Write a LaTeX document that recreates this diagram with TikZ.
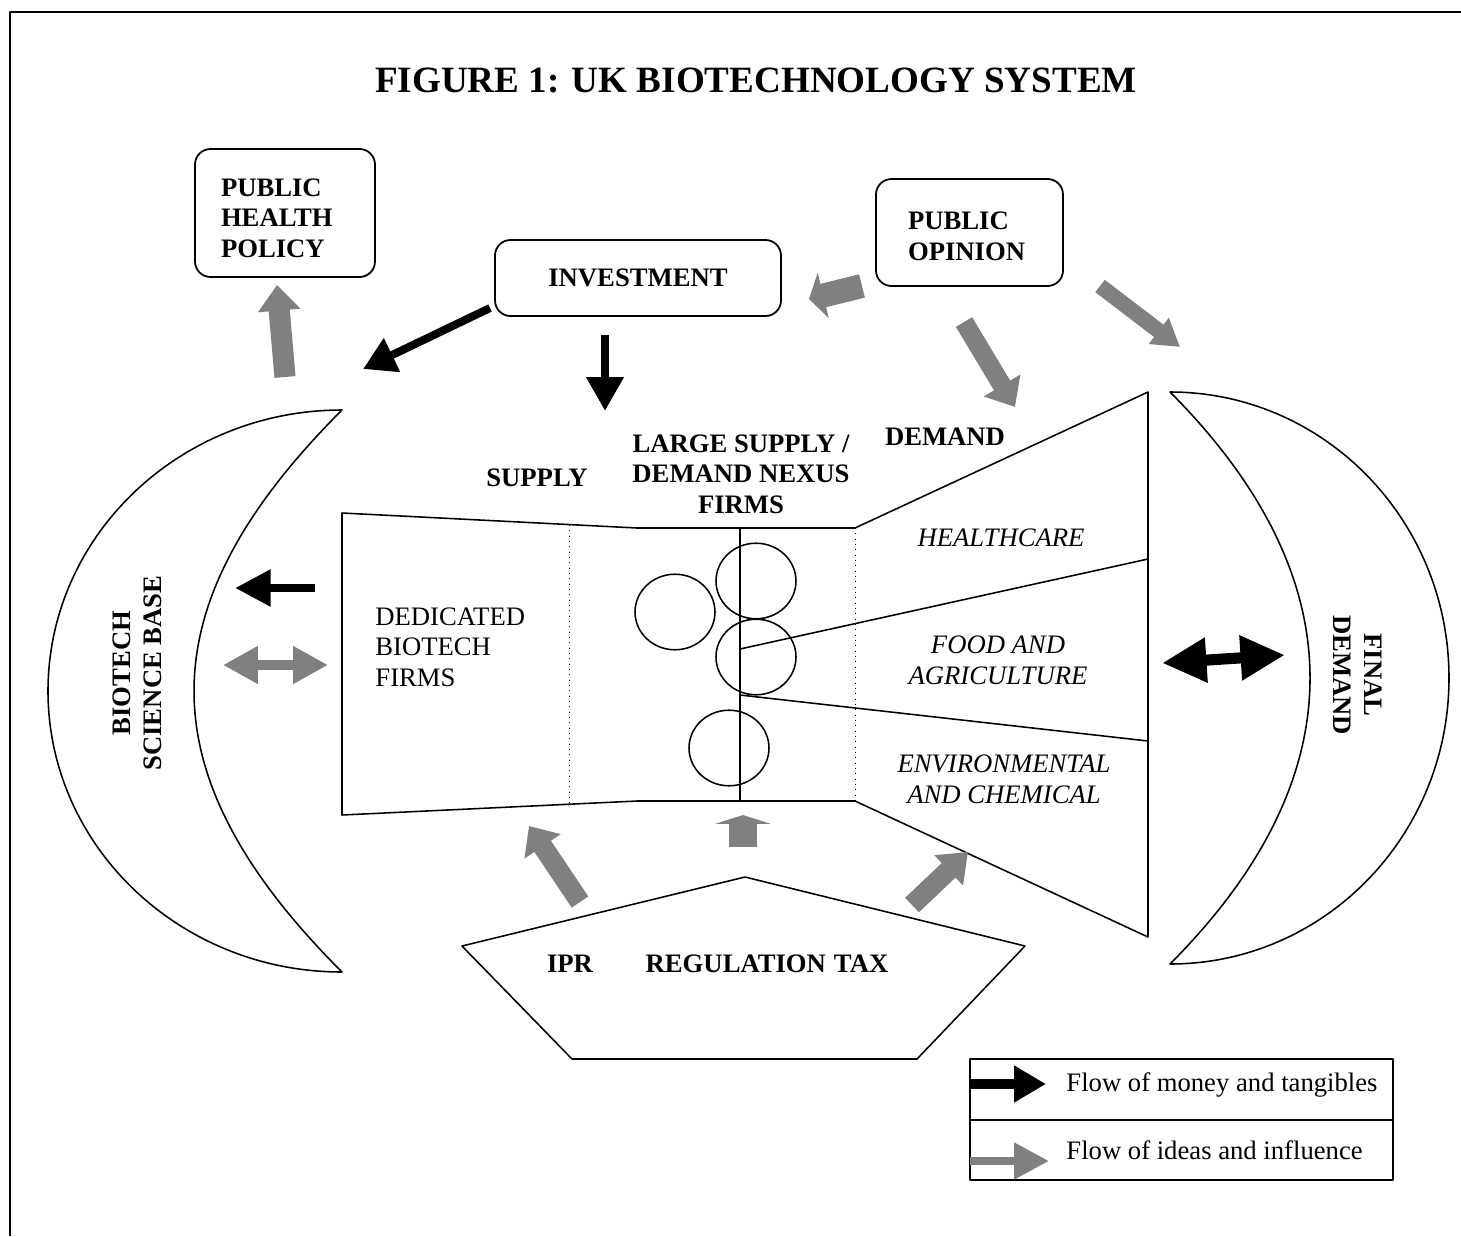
\documentclass[tikz,border=0pt]{standalone}
\usepackage{fontspec}
\setmainfont{Liberation Serif}
\usetikzlibrary{arrows.meta}
\begin{document}
\begin{tikzpicture}[x=0.45pt,y=-0.45pt,font=\fontsize{12}{13.8}\selectfont,line join=round,
	idea/.style={draw=gray},
	money/.style={draw=black},
	fat/.style n args={3}{line width=#1,-{Triangle[length=#2,width=#3]}},
	fatboth/.style n args={3}{line width=#1,{Triangle[length=#2,width=#3]}-{Triangle[length=#2,width=#3]}},
	roundbox/.style={draw,rounded corners=7pt,line width=0.8pt},
	caps/.style={font=\fontsize{12}{13.8}\selectfont\bfseries},
	sector/.style={font=\fontsize{12}{13.8}\selectfont\itshape,align=center}]
		\useasboundingbox (0,0) rectangle (1461,1236);
		%\draw[color=gray!50,dashed] (0,0) grid[step=100] (1461,1236);
		\draw[line width=0.9pt] (10,1236)--(10,12)--(1461,12);
		\node[font=\fontsize{16.7}{19}\selectfont\bfseries] (title) at (756,80) {FIGURE 1: UK BIOTECHNOLOGY SYSTEM};
		% boxes
		\node[roundbox,caps,text width=57.6pt,inner xsep=11.7pt,minimum height=57.6pt,align=left] (health) at (285,213) {\rule{0pt}{12.5pt}PUBLIC\\HEALTH\\POLICY};
		\node[roundbox,caps,minimum width=128.7pt,minimum height=34.2pt] (invest) at (638,278) {INVESTMENT};
		\node[roundbox,caps,text width=55.35pt,inner xsep=14.4pt,minimum height=48.15pt,align=left] (opinion) at (969.5,232.5) {\rule{0pt}{11.6pt}PUBLIC\\OPINION};
		% crescents
		\draw[line width=0.7pt] (342,410) .. controls (179.7,410) and (48,535.9) .. (48,691) .. controls (48,846.1) and (179.7,972) .. (342,972) .. controls (144.7,775) and (144.7,607) .. cycle;
		\draw[line width=0.7pt] (1170,392) .. controls (1324,392) and (1449,520) .. (1449,678) .. controls (1449,836) and (1324,964) .. (1170,964) .. controls (1356.7,777) and (1356.7,579) .. cycle;
		\node[caps,rotate=90,align=center] (science) at (137,673) {BIOTECH\\SCIENCE BASE};
		\node[caps,rotate=-90,align=center] (final) at (1358,675) {FINAL\\DEMAND};
		% supply / demand funnel
		\draw[line width=0.7pt] (342,513)--(637,528)--(855,528)--(1148,392)--(1148,937)--(855,801)--(637,801)--(342,815)--cycle;
		\draw[dotted] (569,525)--(569,804);
		\draw[dotted] (855,528)--(855,801);
		\draw[line width=0.7pt] (740,528)--(740,801);
		\draw[line width=0.7pt] (1148,559)--(740,649);
		\draw[line width=0.7pt] (1148,741)--(740,695);
		\draw[line width=0.7pt] (675,612) ellipse [x radius=18pt,y radius=17pt];
		\draw[line width=0.7pt] (756,581) ellipse [x radius=18pt,y radius=17pt];
		\draw[line width=0.7pt] (756,657) ellipse [x radius=18pt,y radius=17pt];
		\draw[line width=0.7pt] (729,748) ellipse [x radius=18pt,y radius=17pt];
		\node[caps] (supply) at (537,478) {SUPPLY};
		\node[caps,align=center] (nexus) at (741,474) {LARGE SUPPLY /\\DEMAND NEXUS\\FIRMS};
		\node[caps] (demand) at (945,437) {DEMAND};
		\node[align=left,anchor=west,inner xsep=0pt] (dbf) at (375,647) {DEDICATED\\BIOTECH\\FIRMS};
		\node[sector] (care) at (1001,538) {HEALTHCARE};
		\node[sector] (food) at (998,660) {FOOD AND\\AGRICULTURE};
		\node[sector] (env) at (1004,779) {ENVIRONMENTAL\\AND CHEMICAL};
		% pentagon
		\draw[line width=0.7pt] (745,877)--(1025,946)--(917,1059)--(572,1059)--(462,946)--cycle;
		\node[caps] (ipr) at (570,964) {IPR};
		\node[caps] (regtax) at (767,964) {REGULATION\hspace{0.3em}TAX};
		% arrow ends
		\coordinate (ph1) at (285,377); \coordinate (ph2) at (277,285);
		\coordinate (iv1) at (490,308); \coordinate (iv2) at (363,369);
		\coordinate (iw1) at (605,335); \coordinate (iw2) at (605,411);
		\coordinate (op1) at (862,286); \coordinate (op2) at (809,299);
		\coordinate (oq1) at (964,322); \coordinate (oq2) at (1015,407);
		\coordinate (or1) at (1100,286); \coordinate (or2) at (1180,347);
		\coordinate (sb1) at (315,588); \coordinate (sb2) at (235,588);
		\coordinate (sc1) at (223,665); \coordinate (sc2) at (328,665);
		\coordinate (fd1) at (1162,663); \coordinate (fd2) at (1285,655);
		\coordinate (rg1) at (580,902); \coordinate (rg2) at (529,826);
		\coordinate (rh1) at (743,847); \coordinate (rh2) at (743,815);
		\coordinate (ri1) at (912,905); \coordinate (ri2) at (968,852);
		\draw[idea,fat={9.5pt}{11.5pt}{18.5pt}] (ph1)--(ph2);
		\draw[money,fat={3.6pt}{14.5pt}{16pt}] (iv1)--(iv2);
		\draw[money,fat={4pt}{15.3pt}{16pt}] (iw1)--(iw2);
		\draw[idea,fat={10.8pt}{6.6pt}{20.7pt}] (op1)--(op2);
		\draw[idea,fat={8.5pt}{11.3pt}{18.5pt}] (oq1)--(oq2);
		\draw[idea,fat={7pt}{12pt}{14pt}] (or1)--(or2);
		\draw[money,fat={3.9pt}{16pt}{15.7pt}] (sb1)--(sb2);
		\draw[idea,fatboth={4.5pt}{15.7pt}{16pt}] (sc1)--(sc2);
		\draw[money,fatboth={5pt}{20pt}{19pt}] (fd1)--(fd2);
		\draw[idea,fat={9pt}{11pt}{19pt}] (rg1)--(rg2);
		\draw[idea,fat={13pt}{4pt}{25pt}] (rh1)--(rh2);
		\draw[idea,fat={9pt}{12pt}{18pt}] (ri1)--(ri2);
		% legend
		\draw[line width=0.8pt] (970,1059) rectangle (1393,1180);
		\draw[line width=0.8pt] (970,1120)--(1393,1120);
		\coordinate (lg1) at (970,1084); \coordinate (lg2) at (1046,1084);
		\coordinate (lh1) at (970,1161); \coordinate (lh2) at (1049,1161);
		\draw[money,fat={4.8pt}{14.4pt}{15.7pt}] (lg1)--(lg2);
		\draw[idea,fat={3.6pt}{15.7pt}{15.7pt}] (lh1)--(lh2);
		\node[anchor=west,inner sep=0pt] (lgmoney) at (1066,1085) {Flow of money and tangibles};
		\node[anchor=west,inner sep=0pt] (lgidea) at (1066,1150) {Flow of ideas and influence};
\end{tikzpicture}
\end{document}
